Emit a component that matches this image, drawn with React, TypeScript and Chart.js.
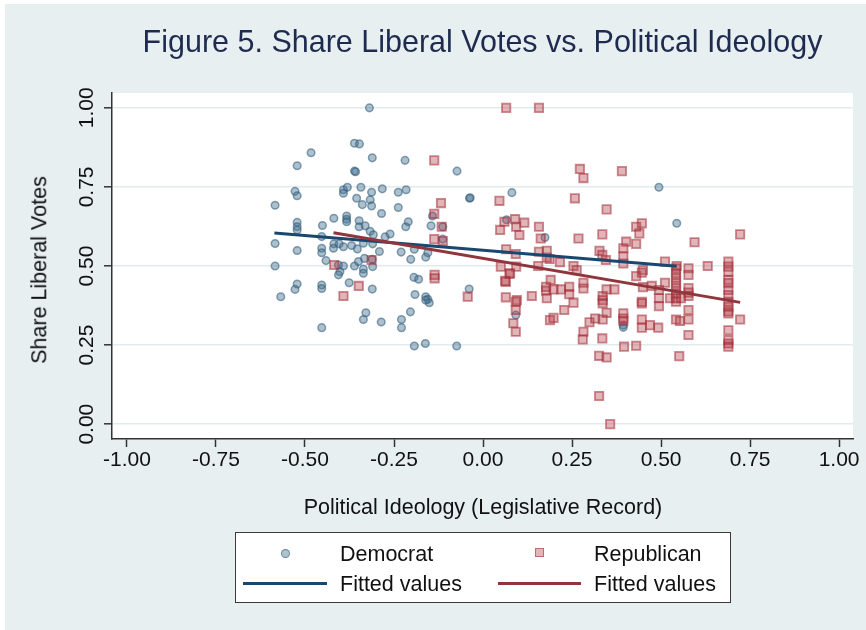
import React, { useEffect, useRef } from "react";
import { Chart, registerables } from "chart.js";

Chart.register(...registerables);

const W = 866;
const H = 630;
const FONT = '"Liberation Sans", Arial, Helvetica, sans-serif';

const chartTitle = "Figure 5. Share Liberal Votes vs. Political Ideology";
const xTitle = "Political Ideology (Legislative Record)";
const yTitle = "Share Liberal Votes";

const xTicks = [-1, -0.75, -0.5, -0.25, 0, 0.25, 0.5, 0.75, 1];
const yTicks = [0, 0.25, 0.5, 0.75, 1];

const demX = [
  -0.319, -0.361, -0.347, -0.483, -0.522, -0.311, -0.219, -0.073, -0.361, -0.358,
  -0.528, -0.522, -0.584, -0.392, -0.392, -0.381, -0.343, -0.313, -0.283, -0.238,
  -0.216, -0.355, -0.317, -0.313, -0.339, -0.238, -0.285, -0.038, -0.036, -0.142,
  -0.146, -0.113, -0.522, -0.522, -0.522, -0.451, -0.419, -0.383, -0.383, -0.383,
  -0.348, -0.348, -0.331, -0.317, -0.308, -0.275, -0.261, -0.217, -0.21, -0.584,
  -0.522, -0.453, -0.453, -0.453, -0.441, -0.419, -0.42, -0.404, -0.392, -0.369,
  -0.353, -0.336, -0.31, -0.291, -0.333, -0.311, -0.23, -0.193, -0.203, -0.161,
  -0.155, -0.584, -0.406, -0.392, -0.402, -0.406, -0.361, -0.35, -0.336, -0.336,
  -0.31, -0.194, -0.181, -0.528, -0.522, -0.568, -0.453, -0.453, -0.376, -0.311,
  -0.191, -0.161, -0.155, -0.151, -0.161, -0.039, -0.329, -0.336, -0.286, -0.229,
  -0.229, -0.204, -0.453, -0.193, -0.162, -0.074, 0.081, -0.113, 0.066, 0.174,
  0.494, 0.544, 0.092, 0.394, 0.394,
];
const demY = [
  1.0, 0.888, 0.886, 0.858, 0.817, 0.842, 0.834, 0.8, 0.8, 0.798,
  0.736, 0.722, 0.692, 0.741, 0.73, 0.749, 0.749, 0.733, 0.744, 0.733,
  0.741, 0.714, 0.709, 0.69, 0.694, 0.685, 0.666, 0.714, 0.716, 0.658,
  0.627, 0.624, 0.638, 0.624, 0.614, 0.628, 0.651, 0.658, 0.648, 0.64,
  0.643, 0.624, 0.627, 0.61, 0.599, 0.592, 0.601, 0.624, 0.64, 0.571,
  0.549, 0.593, 0.556, 0.542, 0.517, 0.57, 0.556, 0.57, 0.561, 0.565,
  0.554, 0.572, 0.57, 0.546, 0.524, 0.521, 0.544, 0.553, 0.521, 0.528,
  0.542, 0.5, 0.503, 0.5, 0.482, 0.472, 0.5, 0.514, 0.49, 0.477,
  0.498, 0.464, 0.458, 0.426, 0.443, 0.403, 0.44, 0.429, 0.447, 0.427,
  0.41, 0.403, 0.395, 0.384, 0.392, 0.427, 0.352, 0.331, 0.323, 0.331,
  0.305, 0.355, 0.305, 0.247, 0.255, 0.247, 0.732, 0.585, 0.646, 0.59,
  0.749, 0.635, 0.345, 0.313, 0.306,
];

const repX = [
  -0.137, -0.118, -0.137, -0.116, -0.137, -0.113, -0.418, -0.313, -0.136, -0.136,
  -0.349, -0.392, -0.043, 0.046, 0.048, 0.06, 0.09, 0.116, 0.093, 0.102,
  0.157, 0.162, 0.157, 0.179, 0.179, 0.065, 0.092, 0.05, 0.093, 0.074,
  0.064, 0.155, 0.19, 0.177, 0.177, 0.198, 0.219, 0.242, 0.064, 0.095,
  0.137, 0.179, 0.242, 0.065, 0.157, 0.272, 0.282, 0.39, 0.258, 0.347,
  0.43, 0.446, 0.439, 0.722, 0.594, 0.268, 0.335, 0.402, 0.394, 0.43,
  0.327, 0.335, 0.345, 0.216, 0.254, 0.263, 0.187, 0.394, 0.449, 0.511,
  0.577, 0.631, 0.544, 0.076, 0.062, 0.092, 0.092, 0.085, 0.092, 0.282,
  0.282, 0.254, 0.228, 0.188, 0.198, 0.282, 0.28, 0.299, 0.315, 0.336,
  0.347, 0.336, 0.336, 0.336, 0.347, 0.369, 0.394, 0.394, 0.394, 0.394,
  0.335, 0.326, 0.347, 0.326, 0.357, 0.396, 0.43, 0.43, 0.446, 0.449,
  0.474, 0.446, 0.446, 0.446, 0.446, 0.469, 0.492, 0.494, 0.494, 0.494,
  0.511, 0.525, 0.542, 0.542, 0.542, 0.542, 0.542, 0.542, 0.542, 0.542,
  0.542, 0.553, 0.577, 0.577, 0.577, 0.551, 0.577, 0.577, 0.577, 0.577,
  0.556, 0.689, 0.689, 0.689, 0.689, 0.689, 0.689, 0.689, 0.689, 0.689,
  0.689, 0.689, 0.689, 0.689, 0.689, 0.689, 0.722,
];
const repY = [
  0.834, 0.699, 0.665, 0.624, 0.585, 0.579, 0.503, 0.519, 0.472, 0.461,
  0.437, 0.405, 0.403, 0.706, 0.614, 0.64, 0.648, 0.637, 0.624, 0.598,
  0.624, 0.587, 0.545, 0.548, 0.527, 0.553, 0.538, 0.498, 0.498, 0.475,
  0.45, 0.5, 0.456, 0.434, 0.422, 0.426, 0.426, 0.434, 0.401, 0.392,
  0.405, 0.398, 0.411, 1.0, 1.0, 0.807, 0.778, 0.8, 0.714, 0.679,
  0.624, 0.635, 0.603, 0.6, 0.575, 0.587, 0.6, 0.577, 0.556, 0.57,
  0.548, 0.535, 0.519, 0.512, 0.5, 0.487, 0.522, 0.508, 0.487, 0.514,
  0.493, 0.5, 0.5, 0.477, 0.453, 0.387, 0.361, 0.319, 0.292, 0.447,
  0.429, 0.384, 0.361, 0.329, 0.336, 0.292, 0.268, 0.322, 0.334, 0.331,
  0.352, 0.405, 0.392, 0.382, 0.426, 0.426, 0.53, 0.35, 0.334, 0.326,
  0.271, 0.216, 0.211, 0.089, 0.0, 0.245, 0.248, 0.468, 0.479, 0.433,
  0.437, 0.387, 0.382, 0.331, 0.305, 0.313, 0.305, 0.424, 0.398, 0.373,
  0.447, 0.398, 0.493, 0.477, 0.462, 0.446, 0.43, 0.414, 0.398, 0.387,
  0.331, 0.326, 0.331, 0.361, 0.282, 0.215, 0.472, 0.43, 0.416, 0.405,
  0.398, 0.514, 0.498, 0.482, 0.456, 0.446, 0.424, 0.408, 0.387, 0.371,
  0.356, 0.35, 0.297, 0.266, 0.255, 0.245, 0.331,
];

const demFitX = [-0.586, 0.544];
const demFitY = [0.604, 0.499];
const repFitX = [-0.42, 0.722];
const repFitY = [0.605, 0.385];

const DEM_FILL = "rgba(70,115,145,0.45)";
const DEM_EDGE = "rgba(45,90,120,0.55)";
const REP_FILL = "rgba(180,60,70,0.38)";
const REP_EDGE = "rgba(160,45,55,0.55)";
const DEM_LINE = "#1a476f";
const REP_LINE = "#90353b";
const OUTER_BG = "#e7eff1";

const toPts = (xs: number[], ys: number[]) => xs.map((x, i) => ({ x, y: ys[i] }));

const bgPlugin = {
  id: "bgPlugin",
  beforeDraw(chart: any) {
    const { ctx, chartArea } = chart;
    ctx.save();
    ctx.fillStyle = OUTER_BG;
    ctx.fillRect(5, 4, W - 5, H - 4);
    ctx.fillStyle = "#ffffff";
    ctx.fillRect(
      chartArea.left,
      chartArea.top,
      chartArea.right - chartArea.left,
      chartArea.bottom - chartArea.top
    );
    ctx.restore();
  },
};

const yLabelPlugin = {
  id: "yLabelPlugin",
  afterDraw(chart: any) {
    const s = chart.scales.y;
    const ctx = chart.ctx;
    ctx.save();
    ctx.font = `21px ${FONT}`;
    ctx.fillStyle = "#111";
    ctx.textAlign = "center";
    ctx.textBaseline = "alphabetic";
    for (const v of yTicks) {
      const py = s.getPixelForValue(v);
      ctx.save();
      ctx.translate(s.right - 19, py);
      ctx.rotate(-Math.PI / 2);
      ctx.fillText(v.toFixed(2), 0, 0);
      ctx.restore();
    }
    ctx.restore();
  },
};

export default function App() {
  const canvasRef = useRef<HTMLCanvasElement | null>(null);

  useEffect(() => {
    const canvas = canvasRef.current;
    if (!canvas) return;
    const chart = new Chart(canvas, {
      type: "scatter",
      data: {
        datasets: [
          {
            label: "Fitted values",
            data: toPts(repFitX, repFitY),
            showLine: true,
            borderColor: REP_LINE,
            borderWidth: 3,
            pointRadius: 0,
            order: 0,
          },
          {
            label: "Fitted values",
            data: toPts(demFitX, demFitY),
            showLine: true,
            borderColor: DEM_LINE,
            borderWidth: 3,
            pointRadius: 0,
            order: 1,
          },
          {
            label: "Republican",
            data: toPts(repX, repY),
            pointStyle: "rect",
            pointRadius: 5.9,
            pointBackgroundColor: REP_FILL,
            pointBorderColor: REP_EDGE,
            pointBorderWidth: 1.8,
            order: 2,
          },
          {
            label: "Democrat",
            data: toPts(demX, demY),
            pointStyle: "circle",
            pointRadius: 3.8,
            pointBackgroundColor: DEM_FILL,
            pointBorderColor: DEM_EDGE,
            pointBorderWidth: 1.5,
            order: 3,
          },
        ],
      },
      options: {
        animation: false,
        responsive: false,
        events: [],
        layout: { padding: { left: 0, right: 13, top: 93, bottom: 0 } },
        plugins: {
          legend: { display: false },
          tooltip: { enabled: false },
          title: { display: false },
        },
        scales: {
          x: {
            type: "linear",
            min: -1.042,
            max: 1.039,
            afterBuildTicks: (s: any) => {
              s.ticks = xTicks.map((v) => ({ value: v }));
            },
            afterFit: (s: any) => {
              s.height = 191;
            },
            grid: {
              drawOnChartArea: false,
              drawTicks: true,
              tickLength: 8,
              tickColor: "#333",
              tickWidth: 1.5,
            },
            border: { display: true, color: "#333", width: 1.5 },
            ticks: {
              font: { family: FONT, size: 21 },
              color: "#111",
              padding: 1,
              minRotation: 0,
              maxRotation: 0,
              autoSkip: false,
              callback: (v: any) => Number(v).toFixed(2),
            },
          },
          y: {
            type: "linear",
            min: -0.047,
            max: 1.047,
            afterBuildTicks: (s: any) => {
              s.ticks = yTicks.map((v) => ({ value: v }));
            },
            afterFit: (s: any) => {
              s.width = 112;
            },
            grid: {
              color: "#e2ebee",
              lineWidth: 1.6,
              drawTicks: true,
              tickLength: 8,
              tickColor: "#333",
              tickWidth: 1.5,
            },
            border: { display: true, color: "#333", width: 1.5 },
            ticks: { display: false },
          },
        },
      },
      plugins: [bgPlugin, yLabelPlugin],
    } as any);
    return () => chart.destroy();
  }, []);

  const txt: React.CSSProperties = {
    position: "absolute",
    fontFamily: FONT,
    whiteSpace: "nowrap",
    lineHeight: 1,
    color: "#111",
  };

  return (
    <div
      style={{
        position: "fixed",
        left: 0,
        top: 0,
        width: W,
        height: H,
        background: "#fff",
        overflow: "hidden",
      }}
    >
      <canvas ref={canvasRef} width={W} height={H} style={{ display: "block", width: W, height: H }} />
      <div
        style={{
          ...txt,
          left: 482.5,
          top: 25.5,
          transform: "translateX(-50%)",
          fontSize: 30.5,
          color: "#1e2b4f",
        }}
      >
        {chartTitle}
      </div>
      <div style={{ ...txt, left: 483, top: 497, transform: "translateX(-50%)", fontSize: 21.5 }}>
        {xTitle}
      </div>
      <div
        style={{
          ...txt,
          left: 40,
          top: 270,
          transform: "translate(-50%, -50%) rotate(-90deg)",
          fontSize: 21.5,
        }}
      >
        {yTitle}
      </div>
      {/* legend */}
      <div
        style={{
          position: "absolute",
          left: 234.5,
          top: 532,
          width: 496.5,
          height: 71,
          boxSizing: "border-box",
          border: "1.5px solid #3a3a3a",
          background: "#fff",
        }}
      />
      <div
        style={{
          position: "absolute",
          left: 285 - 4.5,
          top: 553 - 4.5,
          width: 9,
          height: 9,
          boxSizing: "border-box",
          borderRadius: "50%",
          background: DEM_FILL,
          border: `1.5px solid ${DEM_EDGE}`,
        }}
      />
      <div
        style={{
          position: "absolute",
          left: 539 - 4.5,
          top: 552.5 - 4.5,
          width: 9,
          height: 9,
          boxSizing: "border-box",
          background: REP_FILL,
          border: `1.8px solid ${REP_EDGE}`,
        }}
      />
      <div style={{ position: "absolute", left: 243, top: 581.5, width: 84, height: 3, background: DEM_LINE }} />
      <div style={{ position: "absolute", left: 498, top: 581.5, width: 83, height: 3, background: REP_LINE }} />
      <div style={{ ...txt, left: 340, top: 543.5, fontSize: 21.5 }}>Democrat</div>
      <div style={{ ...txt, left: 594, top: 543.5, fontSize: 21.5 }}>Republican</div>
      <div style={{ ...txt, left: 340, top: 573.5, fontSize: 21.5 }}>Fitted values</div>
      <div style={{ ...txt, left: 594, top: 573.5, fontSize: 21.5 }}>Fitted values</div>
    </div>
  );
}
